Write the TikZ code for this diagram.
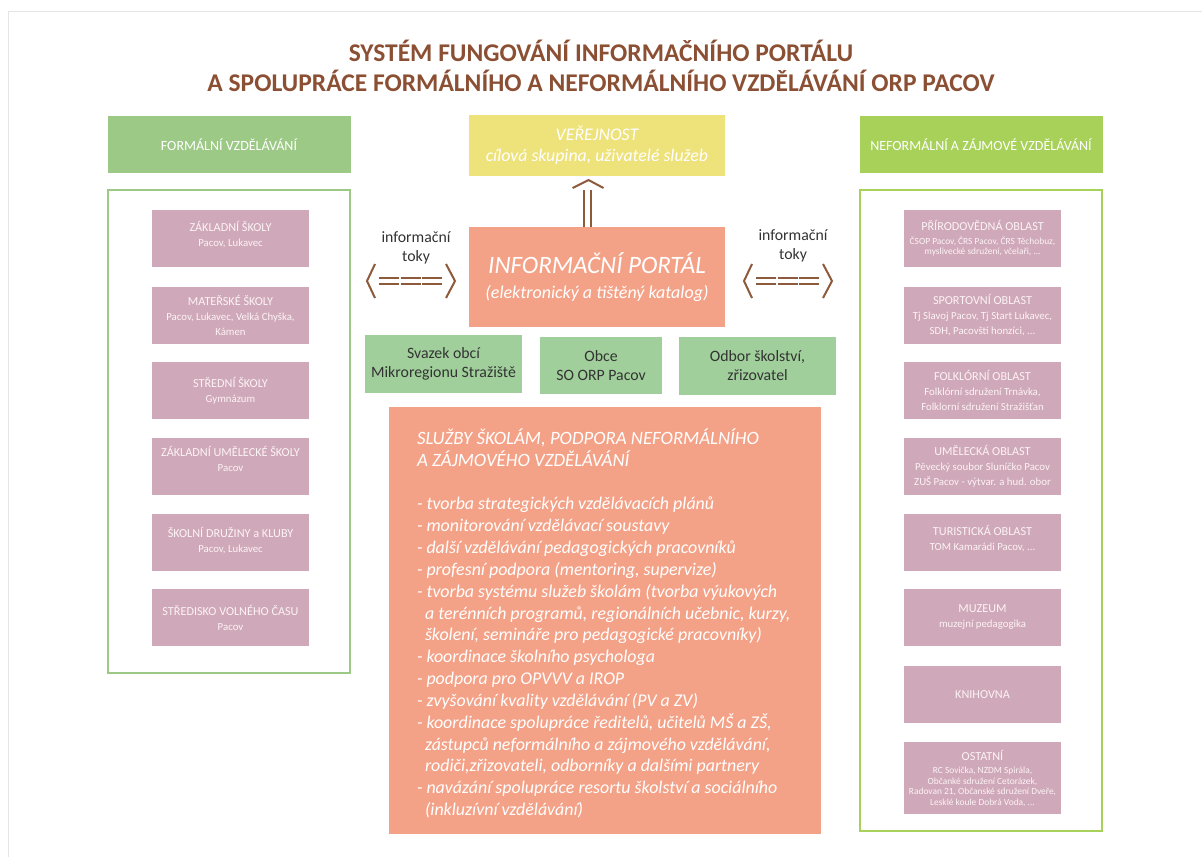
\documentclass[tikz,border=0pt]{standalone}
\usepackage{fontspec}
\setmainfont{Carlito}
\newcommand\fsz[2]{\fontsize{#1}{#2}\selectfont}
\definecolor{titlebrown}{HTML}{8B4F33}
\definecolor{arrowbrown}{HTML}{8E5A3C}
\definecolor{leftgreen}{HTML}{9CC985}
\definecolor{rightgreen}{HTML}{A8D15A}
\definecolor{midgreen}{HTML}{A0CF9B}
\definecolor{mauve}{HTML}{CFA9B9}
\definecolor{salmon}{HTML}{F4A287}
\definecolor{pubyellow}{HTML}{EEE27A}
\definecolor{darktext}{HTML}{333333}
\definecolor{lighttext}{HTML}{FDF3F6}
\tikzset{
  every node/.style={inner sep=0pt, outer sep=0pt, align=center},
  header/.style={minimum width=243pt, minimum height=57pt, text=white, font=\fsz{14}{17}},
  frame/.style={line width=2.2pt, minimum width=242pt},
  pinkbox/.style={fill=mauve, text=lighttext, minimum width=157pt, minimum height=57pt, font=\fsz{10.8}{15}},
  smallbox/.style={pinkbox, font=\fsz{9.4}{10.5}},
  midbox/.style={fill=midgreen, text=darktext, minimum height=58pt, font=\fsz{15.8}{19}},
  flowline/.style={arrowbrown, line width=2pt, dash pattern=on 20pt off 1.5pt},
  chev/.style={arrowbrown, line width=2pt},
  flowlabel/.style={text=darktext, font=\fsz{15.8}{19}}
}
\newcommand\ptl[1]{{\fsz{12.2}{15}#1}}
\begin{document}
\begin{tikzpicture}[x=1pt,y=-1pt]
\useasboundingbox[fill=white] (0,0) rectangle (1202,857);
\draw[black!10, line width=1pt] (8,857) -- (8,11) -- (1202,11);

% title
\node[text=titlebrown, font=\fsz{25.5}{30}\bfseries] (title) at (601,65.5)
  {SYSTÉM FUNGOVÁNÍ INFORMAČNÍHO PORTÁLU\\A SPOLUPRÁCE FORMÁLNÍHO A NEFORMÁLNÍHO VZDĚLÁVÁNÍ ORP PACOV};

% headers and frames
\node[header, fill=leftgreen] (fhead) at (229,144.5) {FORMÁLNÍ VZDĚLÁVÁNÍ};
\node[header, fill=rightgreen] (nhead) at (981,144.5) {NEFORMÁLNÍ A ZÁJMOVÉ VZDĚLÁVÁNÍ};
\node[frame, draw=leftgreen, minimum height=483pt] (fframe) at (229,431.5) {};
\node[frame, draw=rightgreen, minimum height=641pt] (nframe) at (981,510.5) {};

% left boxes
\node[pinkbox] (zs) at (230.5,238.5) {\ptl{ZÁKLADNÍ ŠKOLY}\\Pacov, Lukavec\\[-5pt]};
\node[pinkbox] (ms) at (230.5,315.5) {\ptl{MATEŘSKÉ ŠKOLY}\\Pacov, Lukavec, Velká Chyška,\\Kámen};
\node[pinkbox] (ss) at (230.5,390.5) {\ptl{STŘEDNÍ ŠKOLY}\\Gymnázum};
\node[pinkbox] (zus) at (230.5,466.5) {\ptl{ZÁKLADNÍ UMĚLECKÉ ŠKOLY}\\Pacov\\[1pt]};
\node[pinkbox] (sd) at (230.5,542.5) {\ptl{ŠKOLNÍ DRUŽINY a KLUBY}\\Pacov, Lukavec\\[-9pt]};
\node[pinkbox] (svc) at (230.5,617.5) {\ptl{STŘEDISKO VOLNÉHO ČASU}\\Pacov};

% right boxes
\node[smallbox] (pr) at (982.5,238.5) {\ptl{PŘÍRODOVĚDNÁ OBLAST}\\[3pt]ČSOP Pacov, ČRS Pacov, ČRS Těchobuz,\\myslivecké sdružení, včelaři, ...};
\node[pinkbox] (sp) at (982.5,315.5) {\ptl{SPORTOVNÍ OBLAST}\\Tj Slavoj Pacov, Tj Start Lukavec,\\SDH, Pacovští honzíci, ...};
\node[pinkbox] (fo) at (982.5,390.5) {\ptl{FOLKLÓRNÍ OBLAST}\\Folklórní sdružení Trnávka,\\Folklorní sdružení Stražišťan};
\node[pinkbox] (um) at (982.5,466.5) {\ptl{UMĚLECKÁ OBLAST}\\Pěvecký soubor Sluníčko Pacov\\ZUŠ Pacov - výtvar. a hud. obor};
\node[pinkbox] (tu) at (982.5,542.5) {\ptl{TURISTICKÁ OBLAST}\\TOM Kamarádi Pacov, ...\\[-5pt]};
\node[pinkbox] (mu) at (982.5,617.5) {\ptl{MUZEUM}\\muzejní pedagogika};
\node[pinkbox] (kn) at (982.5,694.5) {\ptl{KNIHOVNA}};
\node[smallbox, minimum height=72pt] (os) at (982.5,778) {\ptl{OSTATNÍ}\\[3pt]RC Sovička, NZDM Spirála,\\Občanké sdružení Cetorázek,\\Radovan 21, Občanské sdružení Dveře,\\Lesklé koule Dobrá Voda, ...};

% center
\node[fill=pubyellow, text=white, minimum width=256pt, minimum height=61pt, font=\fsz{17.8}{21}\itshape] (pub) at (597,145.5)
  {VEŘEJNOST\\cílová skupina, uživatelé služeb};
\node[fill=salmon, text=white, minimum width=256pt, minimum height=100pt, font=\fsz{18}{25}\itshape] (portal) at (597,277)
  {{\fsz{25}{28}INFORMAČNÍ PORTÁL}\\(elektronický a tištěný katalog)};
\node[midbox, minimum width=157pt] (svazek) at (443.5,364) {Svazek obcí\\Mikroregionu Stražiště};
\node[midbox, minimum width=122pt, minimum height=57pt] (obce) at (601,365.5) {Obce\\SO ORP Pacov};
\node[midbox, minimum width=157pt] (odbor) at (757.5,366) {Odbor školství,\\zřizovatel};

\node[fill=salmon, minimum width=432pt, minimum height=427pt] (sluzby) at (605,620.5) {};
\node[anchor=north west, align=left, text=white, font=\fsz{17.9}{21.85}\itshape] (sluzbytext) at (417,428.5)
  {{\fsz{18.8}{21.85}SLUŽBY ŠKOLÁM, PODPORA NEFORMÁLNÍHO}\\
   {\fsz{18.8}{21.85}A ZÁJMOVÉHO VZDĚLÁVÁNÍ}\\[21.85pt]
   - tvorba strategických vzdělávacích plánů\\
   - monitorování vzdělávací soustavy\\
   - další vzdělávání pedagogických pracovníků\\
   - profesní podpora (mentoring, supervize)\\
   - tvorba systému služeb školám (tvorba výukových\\
   \hspace*{8pt}a terénních programů, regionálních učebnic, kurzy,\\
   \hspace*{8pt}školení, semináře pro pedagogické pracovníky)\\
   - koordinace školního psychologa\\
   - podpora pro OPVVV a IROP\\
   - zvyšování kvality vzdělávání (PV a ZV)\\
   - koordinace spolupráce ředitelů, učitelů MŠ a ZŠ,\\
   \hspace*{8pt}zástupců neformálního a zájmového vzdělávání,\\
   \hspace*{8pt}rodiči,zřizovateli, odborníky a dalšími partnery\\
   - navázání spolupráce resortu školství a sociálního\\
   \hspace*{8pt}(inkluzívní vzdělávání)};

% up arrow portal -> public (y grows downward on the page: negative yshift moves down)
\coordinate (uptip) at ([xshift=-8.5pt,yshift=-4pt]pub.south);
\draw[arrowbrown, line width=2pt, double=white, double distance=5.5pt]
  ([xshift=-9.5pt]portal.north) -- ([xshift=-1pt,yshift=-10pt]uptip);
\draw[chev] ([xshift=-16pt,yshift=-8pt]uptip) -- (uptip) -- ([xshift=15pt,yshift=-8pt]uptip);

% left flow arrow
\coordinate (lfa) at (367,281);
\coordinate (lfb) at (455,281);
\draw[flowline] ([xshift=12pt,yshift=-3.3pt]lfa) -- ([xshift=-12pt,yshift=-3.3pt]lfb);
\draw[flowline] ([xshift=12pt,yshift=3.3pt]lfa) -- ([xshift=-12pt,yshift=3.3pt]lfb);
\draw[chev] ([xshift=8pt,yshift=-17pt]lfa) -- (lfa) -- ([xshift=8pt,yshift=17pt]lfa);
\draw[chev] ([xshift=-9pt,yshift=-17pt]lfb) -- (lfb) -- ([xshift=-9pt,yshift=17pt]lfb);
\node[flowlabel] (lflab) at (416,248) {informační\\toky};

% right flow arrow
\coordinate (rfa) at (744,281);
\coordinate (rfb) at (832,281);
\draw[flowline] ([xshift=12pt,yshift=-3.3pt]rfa) -- ([xshift=-12pt,yshift=-3.3pt]rfb);
\draw[flowline] ([xshift=12pt,yshift=3.3pt]rfa) -- ([xshift=-12pt,yshift=3.3pt]rfb);
\draw[chev] ([xshift=8pt,yshift=-17pt]rfa) -- (rfa) -- ([xshift=8pt,yshift=17pt]rfa);
\draw[chev] ([xshift=-9pt,yshift=-17pt]rfb) -- (rfb) -- ([xshift=-9pt,yshift=17pt]rfb);
\node[flowlabel] (rflab) at (793,246) {informační\\toky};
\end{tikzpicture}
\end{document}
